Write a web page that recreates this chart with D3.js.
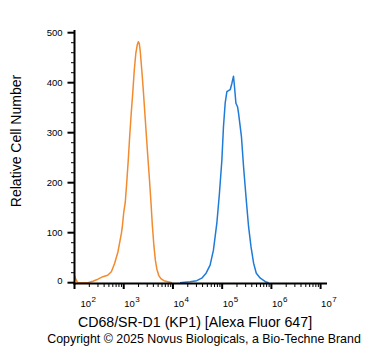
<!DOCTYPE html>
<html>
<head>
<meta charset="utf-8">
<script src="https://cdn.jsdelivr.net/npm/d3@7"></script>
<style>
  html, body { margin: 0; padding: 0; background: #fff; }
  svg { display: block; font-family: "Liberation Sans", Arial, sans-serif; }
</style>
</head>
<body>
<svg id="chart" width="371" height="351"></svg>
<script>
// ---- data ----
const orangeIntensity = [100, 105, 115, 187, 236, 299, 378, 472, 561, 655, 765, 898, 932, 1000, 1073, 1151, 1236, 1326, 1423, 1527, 1638, 1758, 1886, 1977, 2072, 2171, 2330, 2500, 2683, 2879, 3089, 3314, 3556, 3816, 4094, 4394, 4715, 5180, 5690, 6553, 7906, 9541];
const orangeCount     = [14, 8, 0, 0, 3, 7, 12, 15, 22, 39, 62, 99, 110, 140, 160, 200, 245, 295, 340, 380, 425, 458, 476, 482, 478, 462, 425, 385, 340, 296, 252, 210, 165, 115, 75, 45, 27, 14, 8, 4, 2, 0];

const blueIntensity = [13900, 22230, 30460, 38530, 47150, 56900, 66450, 77960, 88080, 98600, 106300, 115100, 124700, 134500, 145700, 157800, 170100, 178200, 190300, 205200, 215100, 246500, 272100, 309000, 344200, 385200, 435400, 494000, 596400, 754500, 881000];
const blueCount     = [0, 2, 4, 9, 19, 35, 65, 119, 179, 245, 312, 359, 382, 384, 386, 399, 413, 392, 359, 352, 339, 292, 232, 165, 112, 72, 39, 19, 9, 2, 0];

const xMajorExponents = [2, 3, 4, 5, 6, 7];
const yMajorTicks = [0, 100, 200, 300, 400, 500];

const xTitle = "CD68/SR-D1 (KP1) [Alexa Fluor 647]";
const yTitle = "Relative Cell Number";
const copyright = "Copyright \u00A9 2025 Novus Biologicals, a Bio-Techne Brand";

// ---- layout ----
const svg = d3.select("#chart");
const pLeft = 74.5, pRight = 327, pTop = 30, pBottom = 283.5;

const x = d3.scaleLog().domain([1e2, Math.pow(10, 7.13)]).range([pLeft, pRight]);
const y = d3.scaleLinear().domain([0, 500]).range([282.7, 32.7]);

svg.append("defs").append("clipPath").attr("id", "plotclip")
  .append("rect").attr("x", pLeft).attr("y", pTop).attr("width", pRight - pLeft).attr("height", pBottom - pTop);

const line = d3.line().x(d => x(d[0])).y(d => y(d[1]));

const g = svg.append("g").attr("clip-path", "url(#plotclip)");
g.append("path")
  .datum(d3.zip(orangeIntensity, orangeCount))
  .attr("d", line).attr("fill", "none")
  .attr("stroke", "#f28a2e").attr("stroke-width", 1.5).attr("stroke-linejoin", "round");
g.append("path")
  .datum(d3.zip(blueIntensity, blueCount))
  .attr("d", line).attr("fill", "none")
  .attr("stroke", "#1f7bd8").attr("stroke-width", 1.5).attr("stroke-linejoin", "round");

// ---- x axis ----
const ax = svg.append("g");
ax.append("line").attr("x1", pLeft - 1).attr("x2", pRight).attr("y1", pBottom).attr("y2", pBottom)
  .attr("stroke", "#000").attr("stroke-width", 2);
const minorX = [];
xMajorExponents.forEach(e => {
  for (let m = 2; m <= 9; m++) {
    const v = m * Math.pow(10, e);
    if (v <= x.domain()[1]) minorX.push(v);
  }
});
ax.selectAll("line.minx").data(minorX).enter().append("line")
  .attr("x1", d => x(d)).attr("x2", d => x(d))
  .attr("y1", pBottom).attr("y2", pBottom + 3.5)
  .attr("stroke", "#000").attr("stroke-width", 1);
ax.selectAll("line.majx").data(xMajorExponents).enter().append("line")
  .attr("x1", e => x(Math.pow(10, e))).attr("x2", e => x(Math.pow(10, e)))
  .attr("y1", pBottom).attr("y2", pBottom + 5.5)
  .attr("stroke", "#000").attr("stroke-width", 2);
const xl = ax.selectAll("text.xl").data(xMajorExponents).enter().append("text")
  .attr("x", e => Math.max(x(Math.pow(10, e)) + 0.5, 80.5))
  .attr("y", 307)
  .attr("font-size", 9.5).attr("fill", "#000");
xl.append("tspan").text("10");
xl.append("tspan").attr("dx", 0.5).attr("dy", -5).attr("font-size", 8).text(e => e);

// ---- y axis ----
const ay = svg.append("g");
ay.append("line").attr("x1", pLeft).attr("x2", pLeft).attr("y1", pTop).attr("y2", pBottom + 1)
  .attr("stroke", "#000").attr("stroke-width", 2);
const minorY = d3.range(20, 500, 20).filter(v => v % 100 !== 0);
ay.selectAll("line.miny").data(minorY).enter().append("line")
  .attr("x1", pLeft - 3.5).attr("x2", pLeft).attr("y1", d => y(d)).attr("y2", d => y(d))
  .attr("stroke", "#000").attr("stroke-width", 1);
ay.selectAll("line.majy").data(yMajorTicks).enter().append("line")
  .attr("x1", pLeft - 7).attr("x2", pLeft).attr("y1", d => y(d)).attr("y2", d => y(d))
  .attr("stroke", "#000").attr("stroke-width", 2);
ay.selectAll("text.yl").data(yMajorTicks).enter().append("text")
  .attr("x", 62.5).attr("y", d => y(d) - (d === 0 ? 2.5 : 0)).attr("dy", "0.35em")
  .attr("text-anchor", "end").attr("font-size", 9.5).attr("fill", "#000")
  .text(d => d);

// ---- titles ----
svg.append("text").attr("transform", "translate(21,141) rotate(-90)")
  .attr("text-anchor", "middle").attr("font-size", 14).attr("fill", "#000").text(yTitle);
svg.append("text").attr("x", 195).attr("y", 327)
  .attr("text-anchor", "middle").attr("font-size", 14.2).attr("fill", "#000").text(xTitle);
svg.append("text").attr("x", 204).attr("y", 342.5)
  .attr("text-anchor", "middle").attr("font-size", 12.4).attr("fill", "#000").text(copyright);
</script>
</body>
</html>
